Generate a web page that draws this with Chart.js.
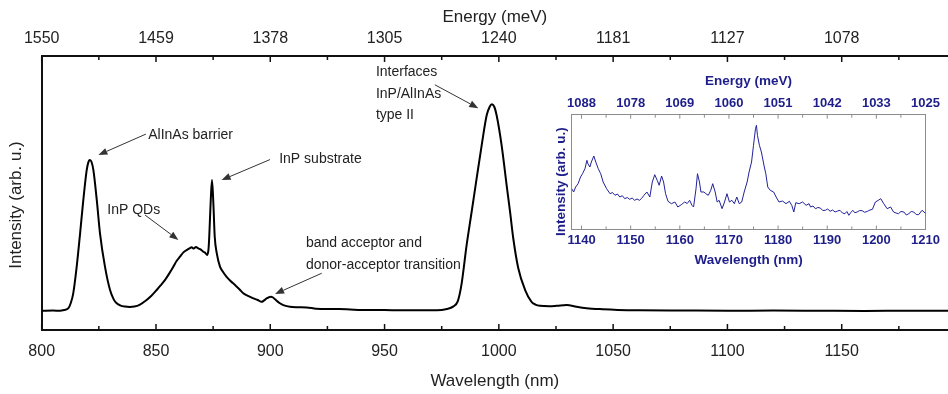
<!DOCTYPE html>
<html><head><meta charset="utf-8">
<script src="https://cdn.jsdelivr.net/npm/chart.js@4.4.0/dist/chart.umd.min.js"></script>
<style>
html,body{margin:0;padding:0;background:#fff;}
#wrap{position:relative;width:948px;height:394px;overflow:hidden;}
#main{position:absolute;left:0;top:0;}
#inset{position:absolute;left:540px;top:70px;}
</style></head><body>
<div id="wrap">
<canvas id="main" width="948" height="394"></canvas>
<canvas id="inset" width="408" height="200"></canvas>
</div>
<script>
// ---------- main spectrum ----------
const wavelengthNm = [800,805,808,810,811.6,812.8,813.8,815.3,816.8,818.2,819.7,820.5,821.1,821.8,822.6,824.1,825.5,827.7,829.9,831.5,832.8,834.5,836.4,838.5,840.5,843,845.9,848,850.3,852,853.9,855.7,857.6,859,860.5,862,863.4,864.5,865.6,866.5,867.5,868.5,869.5,870.7,871.5,872.4,873,873.3,873.9,874.5,875.1,875.7,876.6,878,879.5,880.9,882.5,884.6,886.5,888.2,890,892.6,894.5,896.2,897.3,898.4,900.2,901.2,902.1,904.2,906,908.6,912,915.9,920,925,928,930,935,940,950,960,970,975,977.2,980,982,983.7,985.9,988.1,990.3,992.5,994.7,996,996.9,998,999,1001.2,1003.4,1004.9,1006.3,1008.5,1011.5,1014.3,1016,1018,1022,1025.3,1029.7,1034,1038.4,1045.5,1052,1061.7,1080,1100,1120,1140,1160,1180,1196.5];
const intensity = [0,0.001,0,0.004,0.011,0.04,0.084,0.212,0.374,0.534,0.68,0.72,0.728,0.718,0.68,0.534,0.374,0.212,0.1,0.055,0.036,0.025,0.02,0.018,0.02,0.03,0.052,0.072,0.1,0.122,0.148,0.178,0.213,0.24,0.261,0.282,0.293,0.3,0.306,0.3,0.308,0.301,0.296,0.285,0.28,0.269,0.3,0.357,0.519,0.631,0.519,0.357,0.277,0.213,0.185,0.164,0.145,0.124,0.104,0.084,0.073,0.06,0.052,0.043,0.05,0.06,0.068,0.064,0.055,0.036,0.026,0.019,0.017,0.016,0.01,0.008,0.009,0.008,0.006,0.004,0.003,0.002,0.002,0.004,0.008,0.02,0.045,0.13,0.317,0.478,0.64,0.8,0.945,0.985,0.997,0.985,0.945,0.8,0.607,0.478,0.35,0.205,0.1,0.043,0.03,0.024,0.022,0.024,0.028,0.019,0.012,0.007,0.004,0.002,0.001,0,0.001,0,-0.001,0,0];
const mainAllTicks = [800,825,850,875,900,925,950,975,1000,1025,1050,1075,1100,1125,1150,1175];
const mainTickNm = [800,850,900,950,1000,1050,1100,1150];
const mainEnergyLabels = ['1550','1459','1378','1305','1240','1181','1127','1078'];

// ---------- inset spectrum ----------
const insetWavelengthNm = [1138,1138.4,1138.8,1139.3,1139.8,1140.2,1140.7,1141.1,1141.3,1141.7,1142,1142.5,1142.9,1143.4,1143.9,1144.4,1145.1,1145.8,1146.3,1146.8,1147.3,1147.8,1148.3,1148.8,1149.3,1149.8,1150.3,1150.8,1151.3,1151.8,1152.2,1152.7,1153.3,1153.9,1154.4,1154.9,1155.4,1155.8,1156.3,1156.7,1157.1,1157.6,1158.3,1159,1159.6,1160.3,1161,1161.5,1162,1162.5,1162.8,1163.3,1163.6,1164,1164.3,1164.9,1165.3,1165.8,1166.3,1166.7,1167.2,1167.6,1168,1168.6,1169.1,1169.6,1170.1,1170.6,1171.1,1171.6,1172.1,1172.6,1173.1,1173.7,1174.1,1174.6,1175,1175.4,1175.6,1175.8,1176.2,1176.6,1177.2,1177.5,1177.9,1178.4,1179.1,1179.6,1180.2,1180.9,1181.6,1182.3,1182.8,1183.2,1183.6,1184.3,1185,1185.7,1186.3,1186.6,1187.1,1187.6,1188.1,1188.6,1189.1,1189.6,1190.1,1190.6,1191.1,1191.6,1192.1,1192.6,1193.1,1193.6,1194,1194.4,1194.8,1195.2,1195.6,1196.1,1196.6,1197.1,1197.6,1198.2,1198.7,1199.2,1199.8,1200.4,1200.9,1201.5,1202.2,1202.9,1203.5,1204,1204.5,1205,1205.6,1206.1,1206.6,1207.1,1207.6,1208.1,1208.6,1209.3,1209.7,1210];
const insetIntensity = [40.8,37.5,42.5,45.8,52.5,55.8,60.8,69.2,65.8,62.5,67.5,73.5,67.5,60.8,55.8,47.5,40.8,35.8,37,34.2,35.5,32.5,33.8,30.8,32,30.2,31.5,29.2,30.5,29.2,31,34.2,37.5,32.5,47.5,54.8,49.2,44.2,53.5,47.5,35.8,28.2,25.8,27.5,22.5,24.8,27.5,26,29.2,24,22.5,40.8,55.8,47.5,37.5,37.5,35.8,34.2,39.2,45.8,37.5,27.5,29.2,20.8,27.5,35.8,27.5,29.2,25.8,32.5,25.8,27.5,37.5,47.5,57.5,67.5,84.2,100.8,104.2,94.2,84.2,77.5,62.5,55.8,42.5,39.2,37.5,32.5,27.5,28.5,25.8,28.2,24,17.5,26.8,25.8,27.5,24.2,25.8,22.5,23.5,20.8,22,21.5,19,19.2,20.5,18.2,19.5,17.5,18.5,19.2,16.5,15.8,18,14.2,17,19.2,16.8,17.5,19,18.8,17.2,18.2,19.5,20.2,27.5,29.2,30.8,25.8,20.8,22.5,17.5,16.5,15.8,18,17.5,14.5,15.8,18,17.5,15,14.8,19.2,17.5,16];
const insetAllTicks = [1140,1145,1150,1155,1160,1165,1170,1175,1180,1185,1190,1195,1200,1205,1210];
const insetTickNm = [1140,1150,1160,1170,1180,1190,1200,1210];
const insetEnergyLabels = ['1088','1078','1069','1060','1051','1042','1033','1025'];

// ---------- annotations (data coordinates) ----------
const mainNotes = [
  {text:'AlInAs barrier', x:846.6, y:0.849},
  {text:'InP substrate', x:903.9, y:0.731},
  {text:'InP QDs', x:828.7, y:0.486},
  {text:'band acceptor and', x:915.6, y:0.326},
  {text:'donor-acceptor transition', x:915.6, y:0.221},
  {text:'Interfaces', x:946.2, y:1.150},
  {text:'InP/AlInAs', x:946.2, y:1.047},
  {text:'type II', x:946.2, y:0.945}
];
const mainArrows = [
  {x1:845.6, y1:0.853, x2:824.8, y2:0.752},
  {x1:899.9, y1:0.730, x2:878.7, y2:0.631},
  {x1:845.2, y1:0.462, x2:859.8, y2:0.342},
  {x1:922.5, y1:0.181, x2:902.1, y2:0.081},
  {x1:972.0, y1:1.091, x2:991.0, y2:0.978}
];

const FONT = "'Liberation Sans', Arial, sans-serif";
const NAVY = '#1e1e8a';

function inwardTicks(id, all, major, majLen, minLen, color, width) {
  return {
    id: id,
    afterDraw(chart) {
      const ctx = chart.ctx, a = chart.chartArea;
      ctx.save();
      ctx.strokeStyle = color; ctx.lineWidth = width;
      ['x', 'x2'].forEach(sid => {
        const s = chart.scales[sid];
        const isTop = s.position === 'top';
        all.forEach(v => {
          const px = s.getPixelForValue(v);
          const len = major.includes(v) ? majLen : minLen;
          ctx.beginPath();
          if (isTop) { ctx.moveTo(px, a.top); ctx.lineTo(px, a.top + len); }
          else { ctx.moveTo(px, a.bottom); ctx.lineTo(px, a.bottom - len); }
          ctx.stroke();
        });
      });
      ctx.restore();
    }
  };
}

function yTitle(id, text, cx, cy, font, color) {
  return {
    id: id,
    afterDraw(chart) {
      const ctx = chart.ctx;
      ctx.save();
      ctx.translate(cx, cy); ctx.rotate(-Math.PI / 2);
      ctx.font = font; ctx.fillStyle = color;
      ctx.textAlign = 'center'; ctx.textBaseline = 'middle';
      ctx.fillText(text, 0, 0);
      ctx.restore();
    }
  };
}

const notesPlugin = {
  id: 'notes',
  afterDraw(chart) {
    const ctx = chart.ctx, sx = chart.scales.x, sy = chart.scales.y;
    ctx.save();
    ctx.font = '14px ' + FONT; ctx.fillStyle = '#222';
    ctx.textAlign = 'left'; ctx.textBaseline = 'middle';
    mainNotes.forEach(n => ctx.fillText(n.text, sx.getPixelForValue(n.x), sy.getPixelForValue(n.y)));
    ctx.strokeStyle = '#333'; ctx.fillStyle = '#333'; ctx.lineWidth = 1;
    mainArrows.forEach(r => {
      const x1 = sx.getPixelForValue(r.x1), y1 = sy.getPixelForValue(r.y1);
      const x2 = sx.getPixelForValue(r.x2), y2 = sy.getPixelForValue(r.y2);
      const ang = Math.atan2(y2 - y1, x2 - x1), L = 9, W = 3.5;
      const bx = x2 - L * Math.cos(ang), by = y2 - L * Math.sin(ang);
      ctx.beginPath(); ctx.moveTo(x1, y1); ctx.lineTo(bx, by); ctx.stroke();
      ctx.beginPath();
      ctx.moveTo(x2, y2);
      ctx.lineTo(bx + W * Math.sin(ang), by - W * Math.cos(ang));
      ctx.lineTo(bx - W * Math.sin(ang), by + W * Math.cos(ang));
      ctx.closePath(); ctx.fill();
    });
    ctx.restore();
  }
};

new Chart(document.getElementById('main'), {
  type: 'line',
  data: { datasets: [{
    data: wavelengthNm.map((x, i) => ({x: x, y: intensity[i]})),
    borderColor: '#000', borderWidth: 2, pointRadius: 0,
    cubicInterpolationMode: 'monotone', fill: false
  }]},
  options: {
    responsive: false, animation: false, devicePixelRatio: 1,
    layout: { padding: 0 },
    plugins: { legend: {display: false}, tooltip: {enabled: false} },
    scales: {
      x: {
        type: 'linear', position: 'bottom', min: 800, max: 1196.5,
        afterBuildTicks: s => { s.ticks = mainAllTicks.map(v => ({value: v})); },
        afterFit: s => { s.height = 64; },
        grid: {display: false, drawTicks: false},
        border: {display: true, color: '#111', width: 2},
        ticks: {autoSkip: false, maxRotation: 0, minRotation: 0, padding: 12, color: '#222',
          font: {family: FONT, size: 16},
          callback: v => mainTickNm.includes(v) ? String(v) : ''},
        title: {display: true, text: 'Wavelength (nm)', color: '#222',
          font: {family: FONT, size: 17}, padding: {top: 0, bottom: 2}}
      },
      x2: {
        type: 'linear', position: 'top', min: 800, max: 1196.5,
        afterBuildTicks: s => { s.ticks = mainAllTicks.map(v => ({value: v})); },
        afterFit: s => { s.height = 56; },
        grid: {display: false, drawTicks: false},
        border: {display: true, color: '#111', width: 2},
        ticks: {autoSkip: false, maxRotation: 0, minRotation: 0, padding: 8, color: '#222',
          font: {family: FONT, size: 16},
          callback: v => { const i = mainTickNm.indexOf(v); return i >= 0 ? mainEnergyLabels[i] : ''; }},
        title: {display: true, text: 'Energy (meV)', color: '#222',
          font: {family: FONT, size: 17}, padding: {top: 7, bottom: 0}}
      },
      y: {
        type: 'linear', position: 'left', min: -0.093, max: 1.23,
        afterFit: s => { s.width = 41.7; },
        ticks: {display: false},
        grid: {display: false, drawTicks: false},
        border: {display: true, color: '#111', width: 2}
      }
    }
  },
  plugins: [
    inwardTicks('mainTicks', mainAllTicks, mainTickNm, 6, 4, '#111', 1.5),
    yTitle('mainYTitle', 'Intensity (arb. u.)', 16, 205, '17px ' + FONT, '#222'),
    notesPlugin
  ]
});

new Chart(document.getElementById('inset'), {
  type: 'line',
  data: { datasets: [{
    data: insetWavelengthNm.map((x, i) => ({x: x, y: insetIntensity[i]})),
    borderColor: '#22229a', borderWidth: 1, pointRadius: 0, tension: 0, fill: false
  }]},
  options: {
    responsive: false, animation: false, devicePixelRatio: 1,
    layout: { padding: {left: 0, top: 0, bottom: 0, right: 22.5} },
    plugins: { legend: {display: false}, tooltip: {enabled: false} },
    scales: {
      x: {
        type: 'linear', position: 'bottom', min: 1138, max: 1210,
        afterBuildTicks: s => { s.ticks = insetAllTicks.map(v => ({value: v})); },
        afterFit: s => { s.height = 40.5; },
        grid: {display: false, drawTicks: false},
        border: {display: true, color: '#8c8c8c', width: 1},
        ticks: {autoSkip: false, maxRotation: 0, minRotation: 0, padding: 3, color: NAVY,
          font: {family: FONT, size: 13, weight: 'bold'},
          callback: v => insetTickNm.includes(v) ? String(v) : ''},
        title: {display: true, text: 'Wavelength (nm)', color: NAVY,
          font: {family: FONT, size: 13.5, weight: 'bold'}, padding: {top: 0, bottom: 1.5}}
      },
      x2: {
        type: 'linear', position: 'top', min: 1138, max: 1210,
        afterBuildTicks: s => { s.ticks = insetAllTicks.map(v => ({value: v})); },
        afterFit: s => { s.height = 44.7; },
        grid: {display: false, drawTicks: false},
        border: {display: true, color: '#8c8c8c', width: 1},
        ticks: {autoSkip: false, maxRotation: 0, minRotation: 0, padding: 3.5, color: NAVY,
          font: {family: FONT, size: 13, weight: 'bold'},
          callback: v => { const i = insetTickNm.indexOf(v); return i >= 0 ? insetEnergyLabels[i] : ''; }},
        title: {display: true, text: 'Energy (meV)', color: NAVY,
          font: {family: FONT, size: 13.5, weight: 'bold'}, padding: {top: 3, bottom: 0}}
      },
      y: {
        type: 'linear', position: 'left', min: 0, max: 114.8,
        afterFit: s => { s.width = 31.7; },
        ticks: {display: false},
        grid: {display: false, drawTicks: false},
        border: {display: true, color: '#8c8c8c', width: 1}
      },
      y2: {
        type: 'linear', position: 'right', min: 0, max: 114.8,
        afterFit: s => { s.width = 0; },
        ticks: {display: false},
        grid: {display: false, drawTicks: false},
        border: {display: true, color: '#8c8c8c', width: 1}
      }
    }
  },
  plugins: [
    inwardTicks('insetTicks', insetAllTicks, insetTickNm, 4, 3, '#8c8c8c', 1),
    yTitle('insetYTitle', 'Intensity (arb. u.)', 21, 111.7, 'bold 13.5px ' + FONT, NAVY)
  ]
});
</script>
</body></html>
